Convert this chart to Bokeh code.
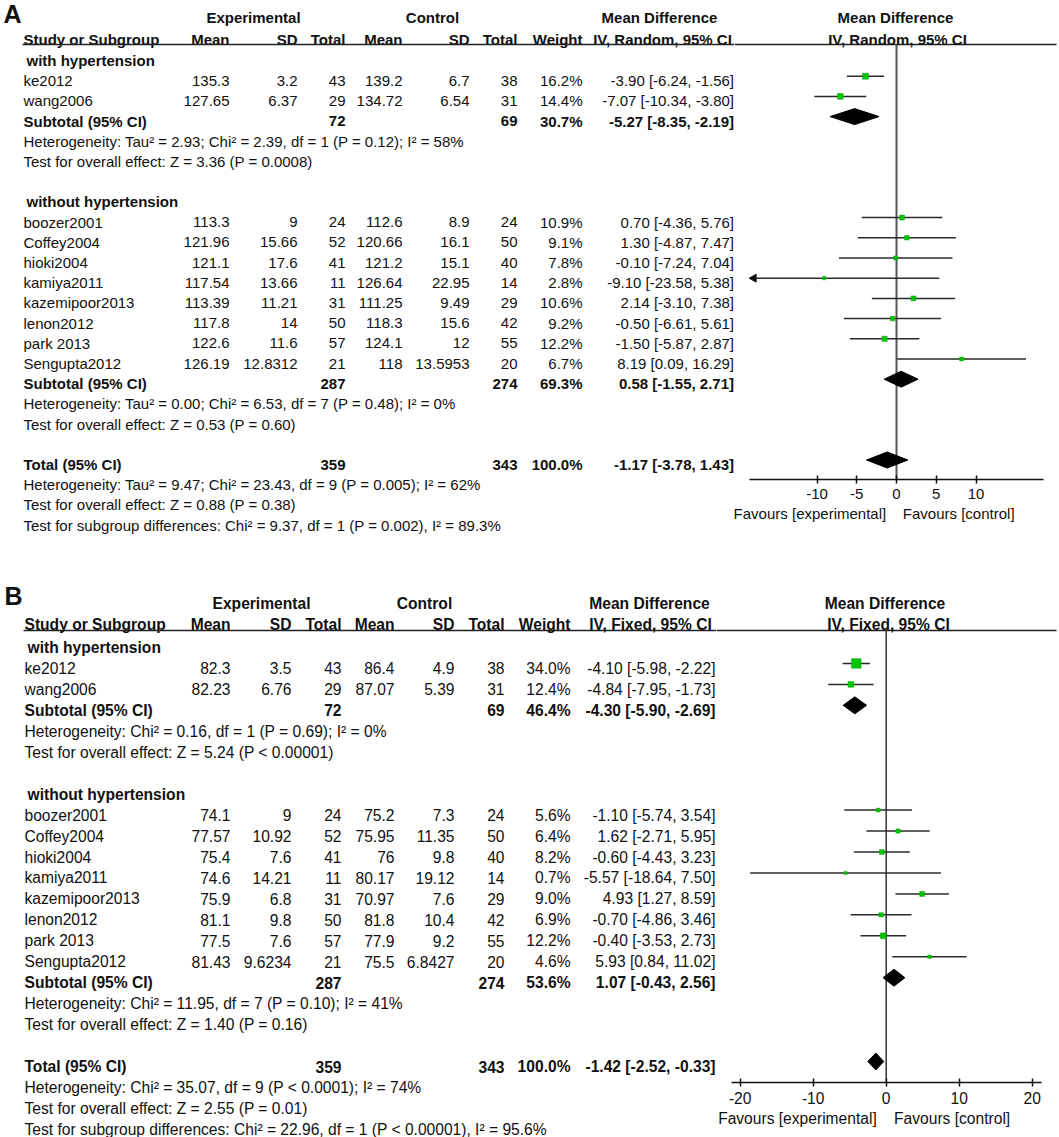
import numpy as np
from bokeh.plotting import figure
from bokeh.models import Range1d, LinearAxis, FixedTicker
from bokeh.layouts import row, column
from bokeh.core.properties import value
from bokeh.embed import file_html
from bokeh.resources import INLINE

FONT = "Liberation Sans"
NB = "\u00a0"

# ---------------- data ----------------
studies = ["ke2012", "wang2006", "boozer2001", "Coffey2004", "hioki2004",
           "kamiya2011", "kazemipoor2013", "lenon2012", "park 2013", "Sengupta2012"]
subgroups = ["with hypertension", "without hypertension"]
study_group = [0, 0, 1, 1, 1, 1, 1, 1, 1, 1]

# Panel A
a_exp_mean = [135.3, 127.65, 113.3, 121.96, 121.1, 117.54, 113.39, 117.8, 122.6, 126.19]
a_exp_sd = [3.2, 6.37, 9, 15.66, 17.6, 13.66, 11.21, 14, 11.6, 12.8312]
a_exp_n = [43, 29, 24, 52, 41, 11, 31, 50, 57, 21]
a_ctl_mean = [139.2, 134.72, 112.6, 120.66, 121.2, 126.64, 111.25, 118.3, 124.1, 118]
a_ctl_sd = [6.7, 6.54, 8.9, 16.1, 15.1, 22.95, 9.49, 15.6, 12, 13.5953]
a_ctl_n = [38, 31, 24, 50, 40, 14, 29, 42, 55, 20]
a_weight = [16.2, 14.4, 10.9, 9.1, 7.8, 2.8, 10.6, 9.2, 12.2, 6.7]
a_md = [-3.90, -7.07, 0.70, 1.30, -0.10, -9.10, 2.14, -0.50, -1.50, 8.19]
a_lo = [-6.24, -10.34, -4.36, -4.87, -7.24, -23.58, -3.10, -6.61, -5.87, 0.09]
a_hi = [-1.56, -3.80, 5.76, 7.47, 7.04, 5.38, 7.38, 5.61, 2.87, 16.29]
a_sub_exp_n = [72, 287]
a_sub_ctl_n = [69, 274]
a_sub_weight = [30.7, 69.3]
a_sub_md = [-5.27, 0.58]
a_sub_lo = [-8.35, -1.55]
a_sub_hi = [-2.19, 2.71]
a_sub_stats = [
    ["Heterogeneity: Tau² = 2.93; Chi² = 2.39, df = 1 (P = 0.12); I² = 58%",
     "Test for overall effect: Z = 3.36 (P = 0.0008)"],
    ["Heterogeneity: Tau² = 0.00; Chi² = 6.53, df = 7 (P = 0.48); I² = 0%",
     "Test for overall effect: Z = 0.53 (P = 0.60)"],
]
a_tot = [359, 343, 100.0, -1.17, -3.78, 1.43]
a_tot_stats = [
    "Heterogeneity: Tau² = 9.47; Chi² = 23.43, df = 9 (P = 0.005); I² = 62%",
    "Test for overall effect: Z = 0.88 (P = 0.38)",
    "Test for subgroup differences: Chi² = 9.37, df = 1 (P = 0.002), I² = 89.3%",
]
a_method = "IV, Random, 95% CI"
a_ticks = [-10, -5, 0, 5, 10]
a_tick_labels = ["-10", "-5", "0", "5", "10"]

# Panel B
b_exp_mean = [82.3, 82.23, 74.1, 77.57, 75.4, 74.6, 75.9, 81.1, 77.5, 81.43]
b_exp_sd = [3.5, 6.76, 9, 10.92, 7.6, 14.21, 6.8, 9.8, 7.6, 9.6234]
b_exp_n = [43, 29, 24, 52, 41, 11, 31, 50, 57, 21]
b_ctl_mean = [86.4, 87.07, 75.2, 75.95, 76, 80.17, 70.97, 81.8, 77.9, 75.5]
b_ctl_sd = [4.9, 5.39, 7.3, 11.35, 9.8, 19.12, 7.6, 10.4, 9.2, 6.8427]
b_ctl_n = [38, 31, 24, 50, 40, 14, 29, 42, 55, 20]
b_weight = [34.0, 12.4, 5.6, 6.4, 8.2, 0.7, 9.0, 6.9, 12.2, 4.6]
b_md = [-4.10, -4.84, -1.10, 1.62, -0.60, -5.57, 4.93, -0.70, -0.40, 5.93]
b_lo = [-5.98, -7.95, -5.74, -2.71, -4.43, -18.64, 1.27, -4.86, -3.53, 0.84]
b_hi = [-2.22, -1.73, 3.54, 5.95, 3.23, 7.50, 8.59, 3.46, 2.73, 11.02]
b_sub_exp_n = [72, 287]
b_sub_ctl_n = [69, 274]
b_sub_weight = [46.4, 53.6]
b_sub_md = [-4.30, 1.07]
b_sub_lo = [-5.90, -0.43]
b_sub_hi = [-2.69, 2.56]
b_sub_stats = [
    ["Heterogeneity: Chi² = 0.16, df = 1 (P = 0.69); I² = 0%",
     "Test for overall effect: Z = 5.24 (P < 0.00001)"],
    ["Heterogeneity: Chi² = 11.95, df = 7 (P = 0.10); I² = 41%",
     "Test for overall effect: Z = 1.40 (P = 0.16)"],
]
b_tot = [359, 343, 100.0, -1.42, -2.52, -0.33]
b_tot_stats = [
    "Heterogeneity: Chi² = 35.07, df = 9 (P < 0.0001); I² = 74%",
    "Test for overall effect: Z = 2.55 (P = 0.01)",
    "Test for subgroup differences: Chi² = 22.96, df = 1 (P < 0.00001), I² = 95.6%",
]
b_method = "IV, Fixed, 95% CI"
b_ticks = [-20, -10, 0, 10, 20]
b_tick_labels = ["-20", "-10", "0", "10", "20"]

# ---------------- layout (page pixels) ----------------
X0, X1 = 0, 1059

cfgA = dict(letter="A", top=0, bottom=560, xs=734, fs="15px", row0=60.0, rowh=20.2,
            hdr1=17, hdr2=39, hline=44, label_y=13, zero=896.0, ppu=7.95, axis_y=479,
            bounds=(-18.45, 18.45),
            study=23, sub=26, me=229, se=297, te=345, mc=402, sc=469, tc=517, w=582, ci=733.5,
            exp_c=253, ctl_c=432, md1_c=659, iv1_c=662, md2_c=895, iv2_c=897,
            mark_off=4.5, sq_k=1.5, sq_min=3.3, dia_h=8.0, vline_w=2.0, vline_c="#555555",
            gap_nb=4, trail_nb=11)
cfgB = dict(letter="B", top=560, bottom=1137, xs=716, fs="15.6px", row0=647.0, rowh=20.95,
            hdr1=603, hdr2=624, hline=630, label_y=595, zero=885.7, ppu=7.3, axis_y=1082,
            bounds=(-21.2, 21.3),
            study=24, sub=27, me=230, se=291, te=341, mc=394, sc=454, tc=504, w=570, ci=715,
            exp_c=261, ctl_c=424, md1_c=649, iv1_c=650, md2_c=884.5, iv2_c=888,
            mark_off=5.0, sq_k=1.65, sq_min=3.0, dia_h=8.5, vline_w=1.5, vline_c="#333333",
            gap_nb=4, trail_nb=11)


def ci_text(m, l, h):
    return f"{m:.2f} [{l:.2f}, {h:.2f}]"


def make_panel(cfg, d):
    top, bottom = cfg["top"], cfg["bottom"]
    r0, rh = cfg["row0"], cfg["rowh"]
    XS = cfg["xs"]
    FS = cfg["fs"]

    def rr(py):
        return (py - r0) / rh

    H = bottom - top
    left = figure(width=XS - X0, height=H, x_range=Range1d(X0, XS),
                  y_range=Range1d(rr(bottom), rr(top)), output_backend="svg",
                  toolbar_location=None, min_border=0, outline_line_color=None,
                  x_axis_type=None, y_axis_type=None, background_fill_color="white",
                  border_fill_color="white")
    left.frame_align = False
    zero, ppu = cfg["zero"], cfg["ppu"]

    def md(px):
        return (px - zero) / ppu

    right = figure(width=X1 - XS, height=H, x_range=Range1d(md(XS), md(X1)),
                   y_range=Range1d(rr(cfg["axis_y"]), rr(top)), output_backend="svg",
                   toolbar_location=None, min_border_left=0, min_border_right=0,
                   min_border_top=0, min_border_bottom=bottom - cfg["axis_y"],
                   outline_line_color=None, x_axis_type=None, y_axis_type=None,
                   background_fill_color="white", border_fill_color="white")
    right.frame_align = False

    normal = {"x": [], "y": [], "t": [], "a": []}
    bold = {"x": [], "y": [], "t": [], "a": []}

    def put(store, x, r, t, a):
        store["x"].append(x); store["y"].append(r); store["t"].append(t); store["a"].append(a)

    # headers
    h1, h2 = rr(cfg["hdr1"]), rr(cfg["hdr2"])
    put(bold, cfg["exp_c"], h1, "Experimental", "center")
    put(bold, cfg["ctl_c"], h1, "Control", "center")
    put(bold, cfg["md1_c"], h1, "Mean Difference", "center")
    put(bold, cfg["study"], h2, "Study or Subgroup", "left")
    for key, lab in [("me", "Mean"), ("se", "SD"), ("te", "Total"), ("mc", "Mean"),
                     ("sc", "SD"), ("tc", "Total"), ("w", "Weight")]:
        put(bold, cfg[key], h2, lab, "right")
    put(bold, cfg["iv1_c"], h2, d["method"], "center")

    # rows
    study_rows, sub_rows = [], []
    r = 0
    for g, gname in enumerate(subgroups):
        put(bold, cfg["sub"], r, gname, "left")
        r += 1
        for i, s in enumerate(studies):
            if study_group[i] != g:
                continue
            study_rows.append(r)
            put(normal, cfg["study"], r, s, "left")
            put(normal, cfg["me"], r, str(d["exp_mean"][i]), "right")
            put(normal, cfg["se"], r, str(d["exp_sd"][i]), "right")
            put(normal, cfg["te"], r, str(d["exp_n"][i]), "right")
            put(normal, cfg["mc"], r, str(d["ctl_mean"][i]), "right")
            put(normal, cfg["sc"], r, str(d["ctl_sd"][i]), "right")
            put(normal, cfg["tc"], r, str(d["ctl_n"][i]), "right")
            put(normal, cfg["w"], r, f"{d['weight'][i]:.1f}%", "right")
            put(normal, cfg["ci"], r, ci_text(d["md"][i], d["lo"][i], d["hi"][i]), "right")
            r += 1
        sub_rows.append(r)
        put(bold, cfg["study"], r, "Subtotal (95% CI)", "left")
        put(bold, cfg["te"], r, str(d["sub_exp_n"][g]), "right")
        put(bold, cfg["tc"], r, str(d["sub_ctl_n"][g]), "right")
        put(bold, cfg["w"], r, f"{d['sub_weight'][g]:.1f}%", "right")
        put(bold, cfg["ci"], r, ci_text(d["sub_md"][g], d["sub_lo"][g], d["sub_hi"][g]), "right")
        put(normal, cfg["study"], r + 1, d["sub_stats"][g][0], "left")
        put(normal, cfg["study"], r + 2, d["sub_stats"][g][1], "left")
        r += 4
    tot_row = r
    tn_e, tn_c, tw, tm, tl, th = d["tot"]
    put(bold, cfg["study"], r, "Total (95% CI)", "left")
    put(bold, cfg["te"], r, str(tn_e), "right")
    put(bold, cfg["tc"], r, str(tn_c), "right")
    put(bold, cfg["w"], r, f"{tw:.1f}%", "right")
    put(bold, cfg["ci"], r, ci_text(tm, tl, th), "right")
    for k, t in enumerate(d["tot_stats"]):
        put(normal, cfg["study"], r + 1 + k, t, "left")

    for store, style in [(normal, "normal"), (bold, "bold")]:
        left.text(x=store["x"], y=store["y"], text=store["t"], text_align=store["a"],
                  text_baseline="middle", text_font=value(FONT), text_font_size=value(FS),
                  text_font_style=style, text_color="#111111")
    left.text(x=[cfg["study"] - 20], y=[rr(cfg["label_y"])], text=[cfg["letter"]],
              text_align="left", text_baseline="middle", text_font=value(FONT),
              text_font_size=value("25px"), text_font_style="bold", text_color="#111111")

    # header rule
    hl = rr(cfg["hline"])
    left.segment(x0=[cfg["study"] - 1], y0=[hl], x1=[XS], y1=[hl], line_color="#222222", line_width=1.5)
    right.segment(x0=[md(XS)], y0=[hl], x1=[md(X1 - 3)], y1=[hl], line_color="#222222", line_width=1.5)

    # right headers
    right.text(x=[md(cfg["md2_c"]), md(cfg["iv2_c"])], y=[h1, h2],
               text=["Mean Difference", d["method"]], text_align="center",
               text_baseline="middle", text_font=value(FONT), text_font_size=value(FS),
               text_font_style="bold", text_color="#111111")

    # zero line
    right.segment(x0=[0], y0=[hl], x1=[0], y1=[rr(cfg["axis_y"])],
                  line_color=cfg["vline_c"], line_width=cfg["vline_w"])

    # study CIs and squares
    off = cfg["mark_off"] / rh
    bmin, bmax = cfg["bounds"]
    ys = [rw - off for rw in study_rows]
    x0s = [max(l, bmin) for l in d["lo"]]
    x1s = [min(h, bmax) for h in d["hi"]]
    right.segment(x0=x0s, y0=ys, x1=x1s, y1=ys, line_color="#2a2a2a", line_width=1.5)
    arr_x, arr_y = [], []
    for l, yv in zip(d["lo"], ys):
        if l < bmin:
            arr_x.append(bmin + 4.0 / ppu); arr_y.append(yv)
    if arr_x:
        right.scatter(x=arr_x, y=arr_y, marker="triangle", size=8, angle=np.pi / 2,
                      fill_color="#111111", line_color="#111111")
    sizes = [max(cfg["sq_min"], cfg["sq_k"] * np.sqrt(wt)) for wt in d["weight"]]
    right.scatter(x=d["md"], y=ys, size=sizes, marker="square",
                  fill_color="#00c400", line_color="#11a811", line_width=0.5)

    # diamonds
    dh = cfg["dia_h"] / rh
    dxs, dys = [], []
    for rw, m, l, h in zip(sub_rows + [tot_row], d["sub_md"] + [tm], d["sub_lo"] + [tl], d["sub_hi"] + [th]):
        yc = rw - off
        dxs.append([l, m, h, m]); dys.append([yc, yc - dh, yc, yc + dh])
    right.patches(xs=dxs, ys=dys, fill_color="#000000", line_color="#000000")

    # axis
    label = "Favours [experimental]" + NB * cfg["gap_nb"] + "Favours [control]" + NB * cfg["trail_nb"]
    ax = LinearAxis(ticker=FixedTicker(ticks=d["ticks"]), bounds=cfg["bounds"],
                    major_label_overrides={t: s for t, s in zip(d["ticks"], d["tick_labels"])},
                    axis_label=label)
    ax.axis_line_color = "#111111"
    ax.axis_line_width = 1.5
    ax.major_tick_line_color = "#111111"
    ax.major_tick_line_width = 1.5
    ax.major_tick_in = 4
    ax.major_tick_out = 4
    ax.minor_tick_line_color = None
    ax.major_label_text_font = FONT
    ax.major_label_text_font_size = FS
    ax.major_label_text_color = "#111111"
    ax.major_label_standoff = 5
    ax.axis_label_text_font = FONT
    ax.axis_label_text_font_size = FS
    ax.axis_label_text_font_style = "normal"
    ax.axis_label_text_color = "#111111"
    ax.axis_label_standoff = 3
    right.add_layout(ax, "below")

    return row(left, right, spacing=0)


dataA = dict(exp_mean=a_exp_mean, exp_sd=a_exp_sd, exp_n=a_exp_n, ctl_mean=a_ctl_mean,
             ctl_sd=a_ctl_sd, ctl_n=a_ctl_n, weight=a_weight, md=a_md, lo=a_lo, hi=a_hi,
             sub_exp_n=a_sub_exp_n, sub_ctl_n=a_sub_ctl_n, sub_weight=a_sub_weight,
             sub_md=a_sub_md, sub_lo=a_sub_lo, sub_hi=a_sub_hi, sub_stats=a_sub_stats,
             tot=a_tot, tot_stats=a_tot_stats, method=a_method, ticks=a_ticks,
             tick_labels=a_tick_labels)
dataB = dict(exp_mean=b_exp_mean, exp_sd=b_exp_sd, exp_n=b_exp_n, ctl_mean=b_ctl_mean,
             ctl_sd=b_ctl_sd, ctl_n=b_ctl_n, weight=b_weight, md=b_md, lo=b_lo, hi=b_hi,
             sub_exp_n=b_sub_exp_n, sub_ctl_n=b_sub_ctl_n, sub_weight=b_sub_weight,
             sub_md=b_sub_md, sub_lo=b_sub_lo, sub_hi=b_sub_hi, sub_stats=b_sub_stats,
             tot=b_tot, tot_stats=b_tot_stats, method=b_method, ticks=b_ticks,
             tick_labels=b_tick_labels)

p = column(make_panel(cfgA, dataA), make_panel(cfgB, dataB), spacing=0)

open("out.html", "w").write(file_html(p, INLINE))
